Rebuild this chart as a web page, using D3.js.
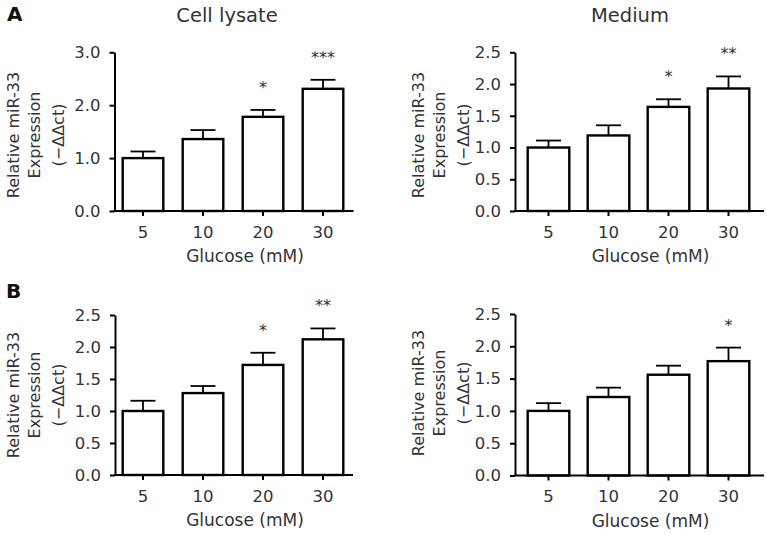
<!DOCTYPE html>
<html>
<head>
<meta charset="utf-8">
<script src="https://cdn.jsdelivr.net/npm/d3@7"></script>
<style>
  html, body { margin: 0; padding: 0; background: #fff; }
  svg text { font-family: "DejaVu Sans", "Liberation Sans", sans-serif; }
</style>
</head>
<body>
<svg id="chart" width="767" height="535"></svg>
<script>
// ---------- data ----------
const categories = ["5", "10", "20", "30"];

const cellLysateA_mean = [1.00, 1.36, 1.78, 2.31];
const cellLysateA_err  = [0.125, 0.17, 0.13, 0.17];
const cellLysateA_sig  = ["", "", "*", "***"];
const cellLysateA_ticks = [0, 1, 2, 3];

const mediumA_mean = [1.00, 1.19, 1.64, 1.93];
const mediumA_err  = [0.11, 0.16, 0.12, 0.19];
const mediumA_sig  = ["", "", "*", "**"];
const mediumA_ticks = [0, 0.5, 1, 1.5, 2, 2.5];

const cellLysateB_mean = [1.00, 1.28, 1.72, 2.12];
const cellLysateB_err  = [0.16, 0.11, 0.19, 0.17];
const cellLysateB_sig  = ["", "", "*", "**"];
const cellLysateB_ticks = [0, 0.5, 1, 1.5, 2, 2.5];

const mediumB_mean = [1.00, 1.215, 1.56, 1.77];
const mediumB_err  = [0.12, 0.145, 0.14, 0.21];
const mediumB_sig  = ["", "", "", "*"];
const mediumB_ticks = [0, 0.5, 1, 1.5, 2, 2.5];

const xTitle = "Glucose (mM)";
const yTitleLines = ["Relative miR-33", "Expression", "(\u2212\u0394\u0394ct)"];
const columnTitles = ["Cell lysate", "Medium"];
const rowLabels = ["A", "B"];

// ---------- layout ----------
const svg = d3.select("#chart");
const textColor = "#333";

const panels = [
  { mean: cellLysateA_mean, err: cellLysateA_err, sig: cellLysateA_sig, ticks: cellLysateA_ticks,
    axisX: 114.5, top: 52.3, bottom: 211, offset: 8.2, bw: 40.6, titleX: [-96, -75, -51], titleCy: 135, xTitleDx: 12 },
  { mean: mediumA_mean, err: mediumA_err, sig: mediumA_sig, ticks: mediumA_ticks,
    axisX: 515, top: 52.3, bottom: 211, offset: 12.7, bw: 41.6, titleX: [-91, -70, -46], titleCy: 135, xTitleDx: 12 },
  { mean: cellLysateB_mean, err: cellLysateB_err, sig: cellLysateB_sig, ticks: cellLysateB_ticks,
    axisX: 115, top: 315, bottom: 475, offset: 7.7, bw: 40.6, titleX: [-96, -75, -51], titleCy: 395, xTitleDx: 12 },
  { mean: mediumB_mean, err: mediumB_err, sig: mediumB_sig, ticks: mediumB_ticks,
    axisX: 515, top: 314, bottom: 475.5, offset: 12.7, bw: 41.6, titleX: [-91, -70, -46], titleCy: 393, xTitleDx: 12 }
];

const step = 60;

panels.forEach(p => {
  const g = svg.append("g");
  const yMax = p.ticks[p.ticks.length - 1];
  const y = d3.scaleLinear().domain([0, yMax]).range([p.bottom, p.top]);
  const n = categories.length;
  const pin = 1 - p.bw / step;
  const x0 = p.axisX + p.offset;
  const x1 = x0 + step * (n - pin);
  const x = d3.scaleBand().domain(categories).range([x0, x1]).paddingInner(pin).paddingOuter(0);
  const axisEnd = x1 + p.offset + 2;

  // bars
  g.selectAll("rect.bar").data(categories).join("rect")
    .attr("x", c => x(c))
    .attr("y", (c, i) => y(p.mean[i]))
    .attr("width", x.bandwidth())
    .attr("height", (c, i) => y(0) - y(p.mean[i]))
    .attr("fill", "#fff")
    .attr("stroke", "#000")
    .attr("stroke-width", 2.4);

  // error bars (upper)
  g.selectAll("line.err").data(categories).join("line")
    .attr("x1", c => x(c) + x.bandwidth() / 2)
    .attr("x2", c => x(c) + x.bandwidth() / 2)
    .attr("y1", (c, i) => y(p.mean[i]))
    .attr("y2", (c, i) => y(p.mean[i] + p.err[i]))
    .attr("stroke", "#000").attr("stroke-width", 1.8);
  g.selectAll("line.cap").data(categories).join("line")
    .attr("x1", c => x(c) + x.bandwidth() / 2 - 12.5)
    .attr("x2", c => x(c) + x.bandwidth() / 2 + 12.5)
    .attr("y1", (c, i) => y(p.mean[i] + p.err[i]))
    .attr("y2", (c, i) => y(p.mean[i] + p.err[i]))
    .attr("stroke", "#000").attr("stroke-width", 1.8);

  // significance stars
  g.selectAll("text.sig").data(categories).join("text")
    .attr("x", c => x(c) + x.bandwidth() / 2)
    .attr("y", (c, i) => y(p.mean[i] + p.err[i]) - 17)
    .attr("text-anchor", "middle")
    .attr("font-size", 16)
    .attr("fill", textColor)
    .text((c, i) => p.sig[i]);

  // y axis
  const ya = g.append("g")
    .attr("transform", `translate(${p.axisX},0)`)
    .call(d3.axisLeft(y).tickValues(p.ticks).tickFormat(d3.format(".1f")).tickSize(5).tickSizeOuter(0).tickPadding(9));
  ya.select(".domain").attr("stroke", "#000").attr("stroke-width", 2);
  ya.selectAll(".tick line").attr("stroke", "#000").attr("stroke-width", 2);
  ya.selectAll(".tick text").attr("font-size", 16.5).attr("fill", textColor)
    .attr("font-family", "DejaVu Sans, sans-serif");

  // x axis
  const xa = g.append("g")
    .attr("transform", `translate(0,${p.bottom})`)
    .call(d3.axisBottom(x).tickSize(5).tickPadding(10));
  xa.select(".domain").remove();
  xa.selectAll(".tick line").attr("stroke", "#000").attr("stroke-width", 2);
  xa.selectAll(".tick text").attr("font-size", 16.5).attr("fill", textColor)
    .attr("font-family", "DejaVu Sans, sans-serif");
  g.append("line")
    .attr("x1", p.axisX - 1).attr("x2", axisEnd)
    .attr("y1", p.bottom).attr("y2", p.bottom)
    .attr("stroke", "#000").attr("stroke-width", 2);

  // x title
  g.append("text")
    .attr("x", (x0 + x1) / 2 + p.xTitleDx)
    .attr("y", p.bottom + 51)
    .attr("text-anchor", "middle")
    .attr("font-size", 17)
    .attr("fill", textColor)
    .text(xTitle);

  // y title (three lines)
  yTitleLines.forEach((t, k) => {
    g.append("text")
      .attr("transform", `translate(${p.axisX + p.titleX[k]},${p.titleCy}) rotate(-90)`)
      .attr("text-anchor", "middle")
      .attr("font-size", 16)
      .attr("fill", textColor)
      .text(t);
  });
});

// column titles
svg.append("text").attr("x", 227).attr("y", 22).attr("text-anchor", "middle")
  .attr("font-size", 19.5).attr("fill", textColor).text(columnTitles[0]);
svg.append("text").attr("x", 630).attr("y", 22).attr("text-anchor", "middle")
  .attr("font-size", 19.5).attr("fill", textColor).text(columnTitles[1]);

// row labels
svg.append("text").attr("x", 7).attr("y", 21).attr("font-size", 20).attr("font-weight", "bold")
  .attr("fill", "#111").text(rowLabels[0]);
svg.append("text").attr("x", 6).attr("y", 298).attr("font-size", 20).attr("font-weight", "bold")
  .attr("fill", "#111").text(rowLabels[1]);
</script>
</body>
</html>
